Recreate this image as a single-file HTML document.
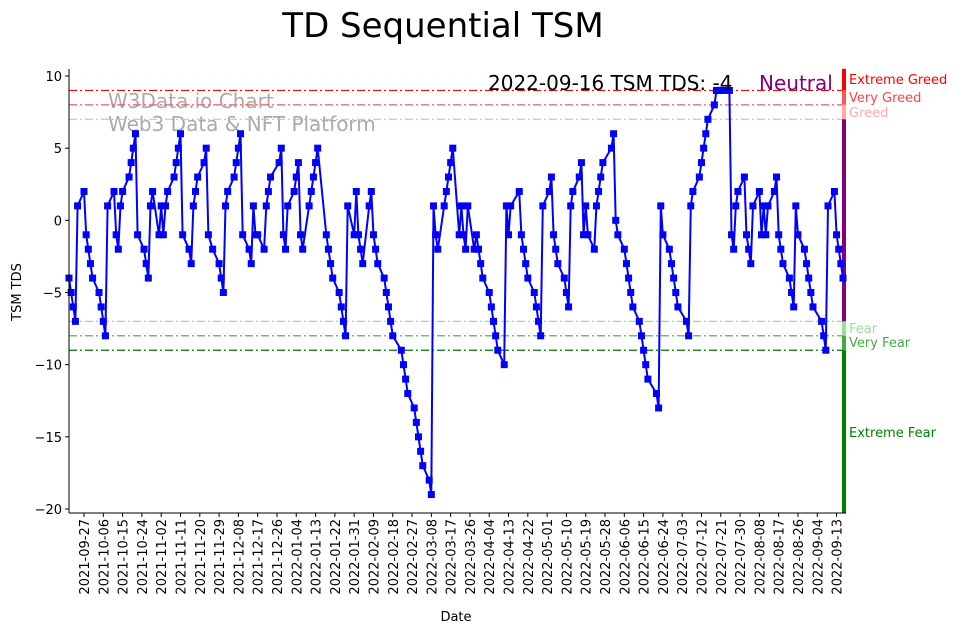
<!DOCTYPE html>
<html><head><meta charset="utf-8"><style>
body{margin:0;background:#fff;}
svg{display:block;font-family:"DejaVu Sans","Liberation Sans",sans-serif;}
</style></head><body>
<svg id="chart" width="962" height="633" viewBox="0 0 962 633" xmlns="http://www.w3.org/2000/svg">
<text x="443" y="37" font-size="34" text-anchor="middle">TD Sequential TSM</text>
<text x="108" y="108" font-size="20" fill="#aaa">W3Data.io Chart</text>
<text x="108" y="131" font-size="20" fill="#aaa">Web3 Data &amp; NFT Platform</text>
<g id="levels"></g>
<g id="series"></g>
<g id="axes"></g>
<text x="488" y="90" font-size="20">2022-09-16 TSM TDS: -4</text>
<text x="759" y="90" font-size="20" fill="#800080">Neutral</text>
<text x="456" y="621" font-size="13" text-anchor="middle">Date</text>
<text x="0" y="0" font-size="13" text-anchor="middle" transform="translate(21,292) rotate(-90)">TSM TDS</text>
</svg>
<script>
const startDate = "2021-09-20";
const endDate = "2022-09-16";
const holidays = ["2021-11-25","2021-12-24","2022-01-17","2022-02-21","2022-04-15","2022-05-30","2022-06-20","2022-07-04","2022-09-05"];
const tdsValues = [-4,-5,-6,-7,1,2,-1,-2,-3,-4,
-5,-6,-7,-8,1,2,-1,-2,1,2,
3,4,5,6,-1,-2,-3,-4,1,2,
-1,1,-1,1,2,3,4,5,6,-1,
-2,-3,1,2,3,4,5,-1,-2,-3,
-4,-5,1,2,3,4,5,6,-1,-2,
-3,1,-1,-1,-2,1,2,3,4,
5,-1,-2,1,2,3,4,-1,-2,1,
2,3,4,5,-1,-2,-3,-4,-5,-6,
-7,-8,1,-1,2,-1,-2,-3,
1,2,-1,-2,-3,-4,-5,-6,-7,-8,
-9,-10,-11,-12,-13,-14,-15,-16,-17,-18,
-19,1,-1,-2,1,2,3,4,5,-1,
1,-1,-2,1,-2,-1,-2,-3,-4,-5,
-6,-7,-8,-9,-10,1,-1,1,2,-1,
-2,-3,-4,-5,-6,-7,-8,1,2,3,
-1,-2,-3,-4,-5,-6,1,2,3,4,
-1,1,-1,-2,1,2,3,4,5,6,
0,-1,-2,-3,-4,-5,-6,-7,-8,-9,
-10,-11,-12,-13,1,-1,-2,-3,-4,-5,
-6,-7,-8,1,2,3,4,5,6,
7,8,9,9,9,9,9,-1,-2,1,
2,3,-1,-2,-3,1,2,-1,1,-1,
1,2,3,-1,-2,-3,-4,-5,-6,1,
-1,-2,-3,-4,-5,-6,-7,-8,-9,1,
2,-1,-2,-3,-4];
const levelValues = [9,8,7,-7,-8,-9];
const levelNames = ["Extreme Greed","Very Greed","Greed","Fear","Very Fear","Extreme Fear"];
const yTicks = [10,5,0,-5,-10,-15,-20];
const xTickStart = "2021-09-27";
const xTickCount = 40;
const xTickStepDays = 9;

const NS="http://www.w3.org/2000/svg";
const L=69,R=843,T=69,B=513;
const DAY=86400000;
const d0=Date.parse(startDate), d1=Date.parse(endDate);
function xs(t){return L+(t-d0)/(d1-d0)*(R-L);}
function ys(v){return 76+(10-v)*(433/30);}
function mk(tag,attrs,parent){const e=document.createElementNS(NS,tag);for(const k in attrs)e.setAttribute(k,attrs[k]);parent.appendChild(e);return e;}
function fmt(t){return new Date(t).toISOString().slice(0,10);}

const dates=[];let t=d0;
while(dates.length<tdsValues.length){const wd=new Date(t).getUTCDay();if(wd!==0&&wd!==6&&holidays.indexOf(fmt(t))<0)dates.push(t);t+=DAY;}

const lv=document.getElementById('levels');
const lvColors=["#ff0000","#ff5555","#ffaaaa","#99dd99","#44aa44","#007700"];
levelValues.forEach((v,i)=>{
  const ln=mk('line',{x1:L,x2:R,y1:ys(v),y2:ys(v),stroke:lvColors[i],'stroke-width':1.2,'stroke-dasharray':'8,3,2,3'},lv);
  
  
});
const segs=[[10.5,levelValues[0],"#ff0000"],[levelValues[0],levelValues[1],"#ff5555"],[levelValues[1],levelValues[2],"#ffaaaa"],[levelValues[2],levelValues[3],"#800080"],[levelValues[3],levelValues[4],"#99dd99"],[levelValues[4],levelValues[5],"#44aa44"],[levelValues[5],-20.3,"#008000"]];
segs.forEach((s,i)=>{
  const r=mk('rect',{x:842,y:ys(s[0]),width:4,height:ys(s[1])-ys(s[0]),fill:s[2]},lv);
  
  
});
const lblY=[79,97,112,328,342,432];
const lblC=["#ff0000","#ff4444","#ffaaaa","#99dd99","#44aa44","#008000"];
levelNames.forEach((n,i)=>{
  const tx=mk('text',{x:849,y:lblY[i]+5,'font-size':13,fill:lblC[i]},lv);tx.textContent=n;
  
  
});

const sg=document.getElementById('series');
const pts=tdsValues.map((v,i)=>xs(dates[i]).toFixed(1)+','+ys(v).toFixed(1)).join(' ');
const pl=mk('polyline',{points:pts,fill:'none',stroke:'#0000ff','stroke-width':2},sg);


tdsValues.forEach((v,i)=>{
  const r=mk('rect',{x:xs(dates[i])-3.5,y:ys(v)-3.5,width:7,height:7,fill:'#0000ff'},sg);
  
  
});

const ax=document.getElementById('axes');
const sp1=mk('line',{x1:L,x2:L,y1:T,y2:B,stroke:'#000','stroke-width':1},ax);


const sp2=mk('line',{x1:L,x2:R+3,y1:B,y2:B,stroke:'#000','stroke-width':1},ax);


yTicks.forEach(v=>{
  mk('line',{x1:L-4,x2:L,y1:ys(v),y2:ys(v),stroke:'#000'},ax);
  const tx=mk('text',{x:L-7,y:ys(v)+5,'font-size':13,'text-anchor':'end'},ax);tx.textContent=v<0?'\u2212'+(-v):v;
  
  
});
const xt0=Date.parse(xTickStart);
for(let i=0;i<xTickCount;i++){
  const tt=xt0+i*xTickStepDays*DAY;const x=xs(tt);
  mk('line',{x1:x,x2:x,y1:B,y2:B+4,stroke:'#000'},ax);
  const tx=mk('text',{x:0,y:0,'font-size':13,'text-anchor':'end',transform:`translate(${x+5},${B+6}) rotate(-90)`},ax);
  tx.textContent=fmt(tt);
  
  
}
</script>
</body></html>
